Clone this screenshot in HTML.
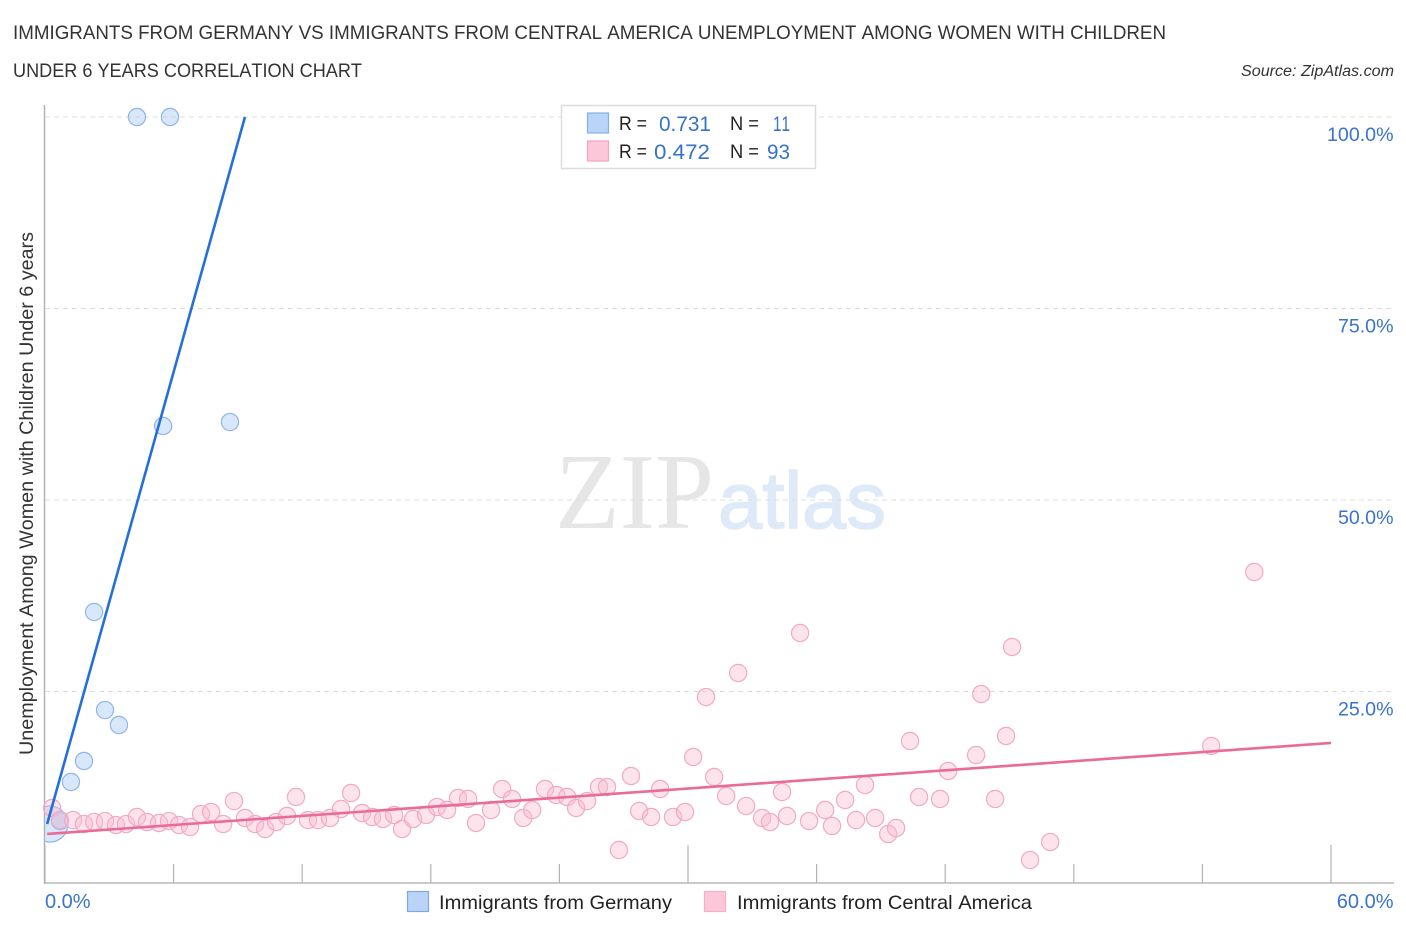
<!DOCTYPE html>
<html lang="en">
<head>
<meta charset="utf-8">
<title>Unemployment Among Women with Children Under 6 Years Correlation Chart</title>
<style>
html,body{margin:0;padding:0;background:#fff;width:1406px;height:930px;overflow:hidden}
svg{display:block;font-family:"Liberation Sans",sans-serif;font-kerning:none}
</style>
</head>
<body>
<svg id="chart" width="1406" height="930" viewBox="0 0 1406 930" xmlns="http://www.w3.org/2000/svg">
  <defs>
    <clipPath id="plot-clip"><rect x="45" y="100" width="1360" height="783"/></clipPath>
  </defs>
  <rect x="0" y="0" width="1406" height="930" fill="#fff"/>
  <text x="13" y="39" font-size="19" fill="#333" textLength="1153" lengthAdjust="spacingAndGlyphs">IMMIGRANTS FROM GERMANY VS IMMIGRANTS FROM CENTRAL AMERICA UNEMPLOYMENT AMONG WOMEN WITH CHILDREN</text>
  <text x="13" y="77" font-size="19" fill="#333" textLength="349" lengthAdjust="spacingAndGlyphs">UNDER 6 YEARS CORRELATION CHART</text>
  <text x="1241" y="76" font-size="15.5" font-style="italic" fill="#333" textLength="153" lengthAdjust="spacingAndGlyphs">Source: ZipAtlas.com</text>

  <g>
    <text x="555" y="528" font-family="'Liberation Serif',serif" font-size="108" fill="#e6e6e6" textLength="159" lengthAdjust="spacingAndGlyphs">ZIP</text>
    <text x="718" y="528" font-size="80" fill="#dfeaf8" stroke="#dfeaf8" stroke-width="1.5" textLength="168" lengthAdjust="spacingAndGlyphs">atlas</text>
  </g>

  <g id="grid"></g>
  <g id="axes"></g>
  <g id="points-germany" clip-path="url(#plot-clip)"></g>
  <g id="points-america"></g>
  <g id="trends"></g>
  <g id="labels"></g>

  <text transform="translate(33,755) rotate(-90)" x="0" y="0" font-size="19" fill="#333" textLength="523" lengthAdjust="spacingAndGlyphs">Unemployment Among Women with Children Under 6 years</text>

  <g>
    <rect x="561.5" y="105.5" width="254" height="63" fill="#fff" stroke="#dcdcdc" stroke-width="1.5"/>
    <rect x="587.5" y="113" width="21" height="20" fill="#b9d4f6" stroke="#86b0e6" stroke-width="1.2"/>
    <text x="619" y="130" font-size="19" fill="#222" textLength="28" lengthAdjust="spacingAndGlyphs">R =</text>
    <text x="659" y="131" font-size="21.5" fill="#3672c8" textLength="52" lengthAdjust="spacingAndGlyphs">0.731</text>
    <text x="730" y="130" font-size="19" fill="#222" textLength="29" lengthAdjust="spacingAndGlyphs">N =</text>
    <text x="773" y="131" font-size="21.5" fill="#3672c8" textLength="17" lengthAdjust="spacingAndGlyphs">11</text>
    <rect x="587.5" y="141" width="21" height="20" fill="#fcc8d9" stroke="#f2a3bf" stroke-width="1.2"/>
    <text x="619" y="158" font-size="19" fill="#222" textLength="28" lengthAdjust="spacingAndGlyphs">R =</text>
    <text x="654" y="159" font-size="21.5" fill="#3672c8" textLength="56" lengthAdjust="spacingAndGlyphs">0.472</text>
    <text x="730" y="158" font-size="19" fill="#222" textLength="29" lengthAdjust="spacingAndGlyphs">N =</text>
    <text x="767" y="159" font-size="21.5" fill="#3672c8" textLength="23" lengthAdjust="spacingAndGlyphs">93</text>
  </g>

  <g>
    <g>
      <rect x="407.5" y="891.5" width="21" height="20" fill="#b9d4f6" stroke="#7fa9e2" stroke-width="1.2"/>
      <text x="439" y="909" font-size="19.5" fill="#222" textLength="233" lengthAdjust="spacingAndGlyphs">Immigrants from Germany</text>
    </g>
    <g>
      <rect x="704.5" y="891.5" width="21" height="20" fill="#fcc8d9" stroke="#f5b0c8" stroke-width="1.2"/>
      <text x="737" y="909" font-size="19.5" fill="#222" textLength="295" lengthAdjust="spacingAndGlyphs">Immigrants from Central America</text>
    </g>
  </g>
</svg>
<script>
var germanyX = [4.29,5.83,5.51,8.63,2.29,2.80,3.45,1.82,1.21,0.70,0.23];
var germanyY = [100,100,59.66,60.18,35.38,22.58,20.63,15.93,13.19,8.09,7.70];
var germanyWeight = [1,1,1,1,1,1,1,1,1,1,4.4];

var americaX = [0.33,0.70,1.31,1.82,2.29,2.80,3.31,3.78,4.29,4.76,5.32,5.79,6.25,6.77,7.28,7.75,8.31,8.82,9.33,9.80,10.27,10.78,11.29,11.71,12.27,12.74,13.30,13.81,14.28,
14.79,15.26,15.77,16.29,16.66,17.17,17.78,18.29,18.76,19.27,19.74,20.11,20.81,21.33,21.79,22.31,22.73,23.33,23.85,24.36,24.78,25.29,25.85,26.22,26.78,27.34,27.72,28.28,28.70,29.30,29.86,30.24,
30.84,32.34,
31.22,31.78,32.71,33.46,33.83,34.39,34.62,35.65,36.40,36.72,37.33,37.84,38.26,38.73,39.34,39.71,40.36,40.78,41.76,42.14,43.44,44.33,44.84,45.96,46.90,
43.68,45.12,35.23,54.41,56.42];
var americaY = [9.79,8.22,8.22,7.70,7.96,8.09,7.57,7.70,8.62,7.96,7.83,8.09,7.57,7.31,9.01,9.27,7.70,10.70,8.49,7.70,7.05,7.96,8.75,11.23,8.22,8.22,8.49,9.66,11.75,
9.14,8.62,8.36,8.88,7.05,8.36,8.88,9.92,9.53,11.10,10.97,7.83,9.53,12.27,10.97,8.49,9.53,12.27,11.49,11.23,9.79,10.70,12.53,12.53,4.31,13.97,9.40,8.62,12.27,8.62,9.27,16.45,
24.28,27.42,
13.84,11.36,10.05,8.49,7.96,11.88,8.75,8.09,9.53,7.44,10.84,8.22,12.79,8.49,6.40,7.18,18.54,11.23,10.97,14.62,16.71,10.97,19.19,3.00,5.35,
24.67,30.81,32.64,17.89,40.60];

var germanyTrendX = [0.1,9.33];
var germanyTrendY = [7.70,100];
var americaTrendX = [0.1,60];
var americaTrendY = [6.40,18.28];

var yTicks = [25,50,75,100];
var yTickLabels = ['25.0%','50.0%','75.0%','100.0%'];
var xTicks = [0,6,12,18,24,30,36,42,48,54,60];
var xMajorTicks = [0,30,60];
var xEndTicks = [0,60];
var xEndLabels = ['0.0%','60.0%'];

var NS = 'http://www.w3.org/2000/svg';
function sx(v){ return 45 + v * (1331 - 45) / 60; }
function sy(v){ return 883 - v * (883 - 117) / 100; }
function make(parent, tag, attrs){
  var el = document.createElementNS(NS, tag);
  for (var k in attrs) { el.setAttribute(k, attrs[k]); }
  parent.appendChild(el);
  return el;
}
var grid = document.getElementById('grid');
var axes = document.getElementById('axes');
var labels = document.getElementById('labels');
var trends = document.getElementById('trends');
var gPts = document.getElementById('points-germany');
var aPts = document.getElementById('points-america');

yTicks.forEach(function(t, i){
  var line = make(grid, 'line', {x1:45, x2:1394, y1:sy(t), y2:sy(t), stroke:'#dedede', 'stroke-width':1, 'stroke-dasharray':'5 4'});
  
  
  var lab = make(labels, 'text', {x:1393.5, y:sy(t) + 24, 'font-size':19.6, fill:'#3a73cb', 'text-anchor':'end'});
  lab.textContent = yTickLabels[i];
  
  
});

var yAxis = make(axes, 'line', {x1:44.5, x2:44.5, y1:105, y2:884, stroke:'#b3b3b3', 'stroke-width':1.5});


var xAxis = make(axes, 'line', {x1:44, x2:1394, y1:883, y2:883, stroke:'#b8b8b8', 'stroke-width':1.5});



xTicks.forEach(function(t){
  var top = xMajorTicks.indexOf(t) >= 0 ? 845 : 864;
  var tick = make(axes, 'line', {x1:sx(t), x2:sx(t), y1:top, y2:883, stroke:'#b3b3b3', 'stroke-width':1.2});
  
  
});

xEndTicks.forEach(function(t, i){
  var lab = make(labels, 'text', {x: t === 0 ? sx(t) : 1393.5, y:908, 'font-size':20, fill:'#3a73cb', 'text-anchor': t === 0 ? 'start' : 'end'});
  lab.textContent = xEndLabels[i];
  
  
});

germanyX.forEach(function(x, i){
  var c = make(gPts, 'circle', {cx:sx(x), cy:sy(germanyY[i]), r:8.6 * Math.sqrt(germanyWeight[i]), fill:'#a9c9f3', 'fill-opacity':0.45, stroke:'#8fb6ea', 'stroke-width':1.2});
  
  
});

americaX.forEach(function(x, i){
  var c = make(aPts, 'circle', {cx:sx(x), cy:sy(americaY[i]), r:8.6, fill:'#f9bdd2', 'fill-opacity':0.42, stroke:'#f3a9c4', 'stroke-width':1.2});
  
  
});

var t1 = make(trends, 'line', {x1:sx(germanyTrendX[0]), y1:sy(germanyTrendY[0]), x2:sx(germanyTrendX[1]), y2:sy(germanyTrendY[1]), stroke:'#2470d8', 'stroke-width':2.6});


var t2 = make(trends, 'line', {x1:sx(americaTrendX[0]), y1:sy(americaTrendY[0]), x2:sx(americaTrendX[1]), y2:sy(americaTrendY[1]), stroke:'#ea6a98', 'stroke-width':2.6});


</script>
</body>
</html>
